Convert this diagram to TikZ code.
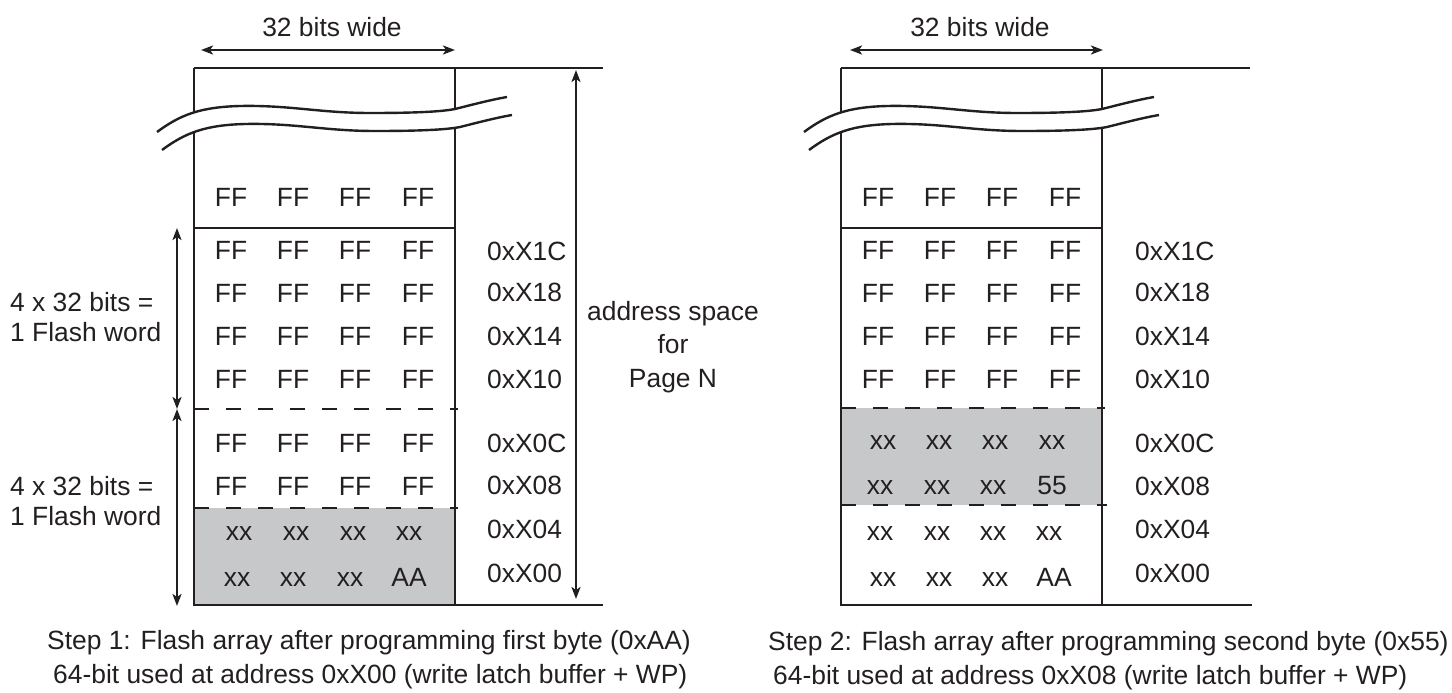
\documentclass[tikz,border=0pt]{standalone}
\usepackage{fontspec}
\setmainfont{Liberation Sans}
\usetikzlibrary{arrows.meta}
\definecolor{cellshade}{RGB}{199,200,202}
\definecolor{ink}{RGB}{35,31,32}
\begin{document}
\begin{tikzpicture}[x=1pt,y=-1pt,
  line/.style={line width=2.4pt, draw=ink},
  dashline/.style={line width=2.4pt, draw=ink, dash pattern=on 15pt off 17pt},
  dimarrow/.style={line width=2.5pt, draw=ink,
    {Stealth[length=12pt,width=9pt,inset=3pt]}-{Stealth[length=12pt,width=9pt,inset=3pt]}},
  txt/.style={font=\fontsize{26.4}{30}\selectfont, text=ink, inner sep=0pt, anchor=base},
  addr/.style={txt, anchor=base west},
  sidelabel/.style={font=\fontsize{26.4}{30}\selectfont, text=ink, inner sep=0pt, align=left, anchor=west},
]
\useasboundingbox (0,0) rectangle (1452,693);

% ---------- LEFT PANEL ----------
\begin{scope}
  \fill[cellshade] (194,508) rectangle (455,605);
  \draw[line] (194,68) -- (603,68);
  \draw[line] (194,68) -- (194,605) -- (603,605);
  \draw[line] (455,68) -- (455,605);
  \draw[line] (194,228) -- (455,228);
  \draw[dashline] (194,409) -- (458,409);
  \draw[dashline] (194,508) -- (458,508);
  % break band
  \fill[white] (157,132) .. controls (180,115) and (200,107) .. (240,106)
    .. controls (290,105) and (320,113) .. (370,113)
    .. controls (410,113) and (440,112) .. (455,109)
    .. controls (475,104) and (490,100) .. (507,97)
    -- (512,115) .. controls (495,118) and (480,122) .. (460,127)
    .. controls (445,130) and (415,131) .. (375,131)
    .. controls (325,131) and (295,123) .. (245,124)
    .. controls (205,125) and (185,133) .. (162,150) -- cycle;
  \draw[line] (157,132) .. controls (180,115) and (200,107) .. (240,106)
    .. controls (290,105) and (320,113) .. (370,113)
    .. controls (410,113) and (440,112) .. (455,109)
    .. controls (475,104) and (490,100) .. (507,97);
  \draw[line] (162,150) .. controls (185,133) and (205,125) .. (245,124)
    .. controls (295,123) and (325,131) .. (375,131)
    .. controls (415,131) and (445,130) .. (460,127)
    .. controls (480,122) and (495,118) .. (512,115);

  % dimension arrows
  \coordinate (LwA) at (201,50); \coordinate (LwB) at (455,50);
  \draw[dimarrow] (LwA) -- (LwB);
  \node[txt] (Lwide) at (332,36.5) {32 bits wide};
  \coordinate (LpT) at (576,70); \coordinate (LpB) at (576,599);
  \draw[dimarrow] (LpT) -- (LpB);
  \node[txt, align=center, anchor=center, font=\fontsize{26.4}{33.5}\selectfont] (Lpage) at (673,347) {address space\\for\\Page N};
  \coordinate (Lf1) at (177,228); \coordinate (Lf2) at (177,409); \coordinate (Lf3) at (177,606);
  \draw[dimarrow] (Lf1) -- (Lf2);
  \draw[dimarrow] (Lf2) -- (Lf3);
  \node[sidelabel] (Lword1) at (10,317) {4 x 32 bits =\\1 Flash word};
  \node[sidelabel] (Lword2) at (10,501) {4 x 32 bits =\\1 Flash word};

  % cells
  \foreach \x [count=\i] in {231,293,355,418} {
    \node[txt] (LT\i) at (\x,206.5) {FF};
    \foreach \y [count=\j] in {259.5,302.5,345.5,388.5,452.5,495.5}
      \node[txt] (LR\j c\i) at (\x,\y) {FF};
  }
  \foreach \x [count=\i] in {239,296,353,409}
    \node[txt] (LX\i) at (\x,540) {xx};
  \foreach \x [count=\i] in {237,293,350}
    \node[txt] (LY\i) at (\x,586) {xx};
  \node[txt] (LY4) at (409,586) {AA};

  \foreach \t/\y in {0xX1C/260.5,0xX18/301.5,0xX14/345.5,0xX10/388.5,0xX0C/452.5,0xX08/494.5,0xX04/538.5,0xX00/582.5}
    \node[addr] (LAd\t) at (487,\y) {\t};

  \node[txt, anchor=base west] (Lcap1) at (47,649) {Step 1: Flash array after programming first byte (0xAA)};
  \node[txt, anchor=base west] (Lcap2) at (53,683) {64-bit used at address 0xX00 (write latch buffer + WP)};
\end{scope}

% ---------- RIGHT PANEL ----------
\begin{scope}[xshift=647pt]
  \fill[cellshade] (194,408) rectangle (455,505);
  \draw[line] (194,68) -- (603,68);
  \draw[line] (194,68) -- (194,605) -- (605,605);
  \draw[line] (455,68) -- (455,605);
  \draw[line] (194,228) -- (455,228);
  \draw[dashline] (194,408) -- (458,408);
  \draw[dashline] (194,505) -- (460,505);
  \fill[white] (157,132) .. controls (180,115) and (200,107) .. (240,106)
    .. controls (290,105) and (320,113) .. (370,113)
    .. controls (410,113) and (440,112) .. (455,109)
    .. controls (475,104) and (490,100) .. (507,97)
    -- (512,115) .. controls (495,118) and (480,122) .. (460,127)
    .. controls (445,130) and (415,131) .. (375,131)
    .. controls (325,131) and (295,123) .. (245,124)
    .. controls (205,125) and (185,133) .. (162,150) -- cycle;
  \draw[line] (157,132) .. controls (180,115) and (200,107) .. (240,106)
    .. controls (290,105) and (320,113) .. (370,113)
    .. controls (410,113) and (440,112) .. (455,109)
    .. controls (475,104) and (490,100) .. (507,97);
  \draw[line] (162,150) .. controls (185,133) and (205,125) .. (245,124)
    .. controls (295,123) and (325,131) .. (375,131)
    .. controls (415,131) and (445,130) .. (460,127)
    .. controls (480,122) and (495,118) .. (512,115);

  \coordinate (RwA) at (203,50); \coordinate (RwB) at (456,50);
  \draw[dimarrow] (RwA) -- (RwB);
  \node[txt] (Rwide) at (333,36.5) {32 bits wide};

  \foreach \x [count=\i] in {231,293,355,418} {
    \node[txt] (RT\i) at (\x,206.5) {FF};
    \foreach \y [count=\j] in {259.5,302.5,345.5,388.5}
      \node[txt] (RR\j c\i) at (\x,\y) {FF};
  }
  \foreach \x [count=\i] in {236,292,348,405}
    \node[txt] (RW\i) at (\x,449) {xx};
  \foreach \x [count=\i] in {233,290,346}
    \node[txt] (RV\i) at (\x,494) {xx};
  \node[txt] (RV4) at (405,494) {55};
  \foreach \x [count=\i] in {233,290,346,402}
    \node[txt] (RX\i) at (\x,540) {xx};
  \foreach \x [count=\i] in {236,292,348}
    \node[txt] (RY\i) at (\x,586) {xx};
  \node[txt] (RY4) at (407,586) {AA};

  \foreach \t/\y in {0xX1C/260.5,0xX18/301.5,0xX14/345.5,0xX10/388.5,0xX0C/452,0xX08/495,0xX04/538.5,0xX00/582.5}
    \node[addr] (RAd\t) at (488,\y) {\t};

  \node[txt, anchor=base west] (Rcap1) at (121,650) {Step 2: Flash array after programming second byte (0x55)};
  \node[txt, anchor=base west] (Rcap2) at (126,684) {64-bit used at address 0xX08 (write latch buffer + WP)};
\end{scope}
\end{tikzpicture}
\end{document}
